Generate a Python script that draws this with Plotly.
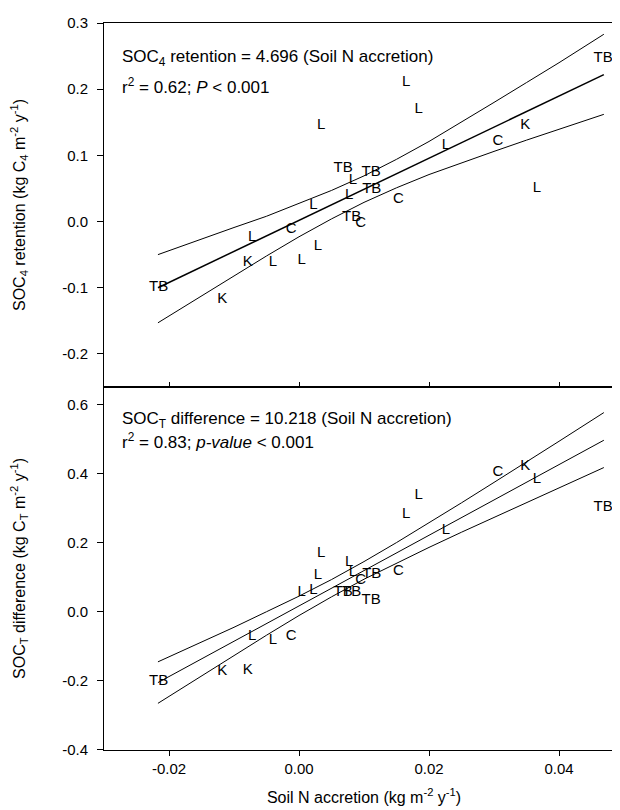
import plotly.graph_objects as go

# ---- data ----
site_labels = ["TB", "K", "K", "L", "L", "C", "L", "L", "L", "L", "TB", "L", "TB",
               "L", "C", "TB", "TB", "C", "L", "L", "L", "C", "K", "L", "TB"]
soil_n = [-0.0216, -0.0118, -0.0079, -0.0072, -0.0040, -0.0012, 0.0004, 0.0022,
          0.0029, 0.0034, 0.0068, 0.0077, 0.0081, 0.0083, 0.0095, 0.0111, 0.0112,
          0.0153, 0.0165, 0.0184, 0.0226, 0.0306, 0.0348, 0.0366, 0.0468]
soc4_retention = [-0.099, -0.118, -0.061, -0.023, -0.061, -0.011, -0.059, 0.025,
                  -0.037, 0.146, 0.080, 0.040, 0.007, 0.063, -0.002, 0.074, 0.049,
                  0.034, 0.211, 0.170, 0.116, 0.122, 0.146, 0.050, 0.247]
soct_difference = [-0.201, -0.172, -0.169, -0.070, -0.083, -0.070, 0.057, 0.062,
                   0.105, 0.170, 0.057, 0.143, 0.057, 0.113, 0.090, 0.033, 0.107,
                   0.116, 0.283, 0.336, 0.235, 0.403, 0.421, 0.384, 0.302]

fit_x = [-0.0217, 0.0469]
top_fit_y = [-0.100, 0.222]
bot_fit_y = [-0.205, 0.496]

band_x = [-0.0217, -0.015, -0.010, -0.005, 0.000, 0.005, 0.010, 0.015, 0.020,
          0.025, 0.030, 0.035, 0.040, 0.0469]
top_upper = [-0.050, -0.026, -0.009, 0.008, 0.027, 0.047, 0.069, 0.094, 0.121,
             0.150, 0.180, 0.210, 0.240, 0.283]
top_lower = [-0.153, -0.112, -0.082, -0.052, -0.023, 0.004, 0.029, 0.051, 0.071,
             0.089, 0.106, 0.123, 0.139, 0.162]
bot_upper = [-0.145, -0.088, -0.045, 0.000, 0.045, 0.093, 0.145, 0.200, 0.257,
             0.315, 0.374, 0.433, 0.493, 0.576]
bot_lower = [-0.265, -0.185, -0.126, -0.068, -0.011, 0.043, 0.094, 0.141, 0.186,
             0.230, 0.273, 0.316, 0.358, 0.417]

x_ticks = [-0.02, 0.00, 0.02, 0.04]
x_tick_text = ["-0.02", "0.00", "0.02", "0.04"]
top_y_ticks = [-0.2, -0.1, 0.0, 0.1, 0.2, 0.3]
top_y_text = ["-0.2", "-0.1", "0.0", "0.1", "0.2", "0.3"]
bot_y_ticks = [-0.4, -0.2, 0.0, 0.2, 0.4, 0.6]
bot_y_text = ["-0.4", "-0.2", "0.0", "0.2", "0.4", "0.6"]

FONT = "Arial, 'Liberation Sans', sans-serif"

fig = go.Figure()

def add_lines(xa, ya, fit_y, upper, lower, fit_w):
    fig.add_trace(go.Scatter(x=band_x, y=upper, mode="lines", xaxis=xa, yaxis=ya,
                             line=dict(color="black", width=1), showlegend=False, hoverinfo="skip"))
    fig.add_trace(go.Scatter(x=band_x, y=lower, mode="lines", xaxis=xa, yaxis=ya,
                             line=dict(color="black", width=1), showlegend=False, hoverinfo="skip"))
    fig.add_trace(go.Scatter(x=fit_x, y=fit_y, mode="lines", xaxis=xa, yaxis=ya,
                             line=dict(color="black", width=fit_w), showlegend=False, hoverinfo="skip"))

add_lines("x", "y", top_fit_y, top_upper, top_lower, 1.5)
add_lines("x2", "y2", bot_fit_y, bot_upper, bot_lower, 1)

fig.add_trace(go.Scatter(x=soil_n, y=soc4_retention, mode="text", text=site_labels,
                         textposition="middle center", xaxis="x", yaxis="y",
                         textfont=dict(family=FONT, size=15, color="black"), showlegend=False))
fig.add_trace(go.Scatter(x=soil_n, y=soct_difference, mode="text", text=site_labels,
                         textposition="middle center", xaxis="x2", yaxis="y2",
                         textfont=dict(family=FONT, size=15, color="black"), showlegend=False))

axis_common = dict(showgrid=False, zeroline=False, showline=True, linecolor="black",
                   linewidth=1, tickcolor="black", tickwidth=1, automargin=False,
                   tickfont=dict(family=FONT, size=15, color="black"))

fig.update_layout(
    width=620, height=810,
    margin=dict(l=96, r=4, t=15, b=68),
    paper_bgcolor="white", plot_bgcolor="white",
    font=dict(family=FONT, size=15, color="black"),
    xaxis=dict(domain=[0, 1], anchor="y", range=[-0.03, 0.05], tickvals=x_ticks,
               ticktext=x_tick_text, showticklabels=False, ticks="inside", ticklen=5,
               mirror=True, **axis_common),
    yaxis=dict(domain=[0.4993, 1], anchor="x", range=[-0.25, 0.3], tickvals=top_y_ticks,
               ticktext=top_y_text, ticks="outside", ticklen=6, mirror="ticks",
               ticklabelstandoff=6,
               title=dict(text="SOC<sub>4</sub> retention (kg C<sub>4</sub> m<sup>-2</sup> y<sup>-1</sup>)",
                          font=dict(family=FONT, size=16), standoff=32),
               **axis_common),
    xaxis2=dict(domain=[0, 1], anchor="y2", range=[-0.03, 0.05], tickvals=x_ticks,
                ticktext=x_tick_text, ticks="outside", ticklen=5, mirror=True,
                title=dict(text="Soil N accretion (kg m<sup>-2</sup> y<sup>-1</sup>)",
                           font=dict(family=FONT, size=16), standoff=15),
                **axis_common),
    xaxis3=dict(domain=[0, 1], anchor="y2", overlaying="x2", side="top",
                range=[-0.03, 0.05], tickvals=x_ticks, showticklabels=False,
                ticks="inside", ticklen=5, showline=False, showgrid=False,
                zeroline=False, tickcolor="black", automargin=False),
    yaxis2=dict(domain=[0, 0.4993], anchor="x2", range=[-0.4, 0.65], tickvals=bot_y_ticks,
                ticktext=bot_y_text, ticks="outside", ticklen=6, mirror="ticks",
                ticklabelstandoff=6,
                title=dict(text="SOC<sub>T</sub> difference (kg C<sub>T</sub> m<sup>-2</sup> y<sup>-1</sup>)",
                           font=dict(family=FONT, size=16), standoff=32),
                **axis_common),
)

ann_font = dict(family=FONT, size=17, color="black")
fig.add_annotation(text="SOC<sub>4</sub> retention = 4.696 (Soil N accretion)",
                   xref="paper", yref="paper", x=0.031, y=0.952, xanchor="left",
                   yanchor="middle", showarrow=False, font=ann_font)
fig.add_annotation(text="r<sup>2</sup> = 0.62; <i>P</i> &lt; 0.001",
                   xref="paper", yref="paper", x=0.031, y=0.913, xanchor="left",
                   yanchor="middle", showarrow=False, font=ann_font)
fig.add_annotation(text="SOC<sub>T</sub> difference = 10.218 (Soil N accretion)",
                   xref="paper", yref="paper", x=0.031, y=0.4545, xanchor="left",
                   yanchor="middle", showarrow=False, font=ann_font)
fig.add_annotation(text="r<sup>2</sup> = 0.83; <i>p-value</i> &lt; 0.001",
                   xref="paper", yref="paper", x=0.031, y=0.425, xanchor="left",
                   yanchor="middle", showarrow=False, font=ann_font)

fig.write_html("out.html")
